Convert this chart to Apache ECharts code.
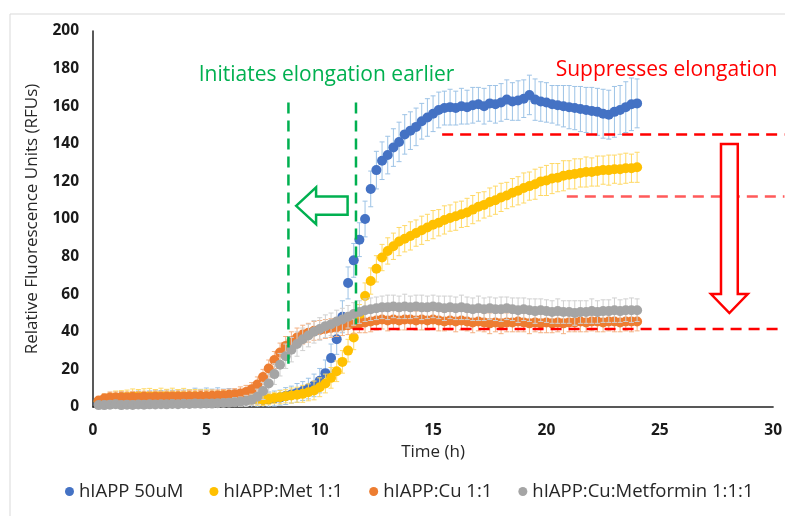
<!DOCTYPE html>
<html>
<head>
<meta charset="utf-8">
<script src="https://cdn.jsdelivr.net/npm/echarts@6/dist/echarts.min.js"></script>
<style>
  html, body { margin: 0; padding: 0; background: #fff; }
  #chart { width: 785px; height: 516px; }
</style>
</head>
<body>
<div id="chart"></div>
<script>
// time points (h)
var times = [0.25,0.5,0.75,1,1.25,1.5,1.75,2,2.25,2.5,
  2.75,3,3.25,3.5,3.75,4,4.25,4.5,4.75,5,
  5.25,5.5,5.75,6,6.25,6.5,6.75,7,7.25,7.5,
  7.75,8,8.25,8.5,8.75,9,9.25,9.5,9.75,10,
  10.25,10.5,10.75,11,11.25,11.5,11.75,12,12.25,12.5,
  12.75,13,13.25,13.5,13.75,14,14.25,14.5,14.75,15,
  15.25,15.5,15.75,16,16.25,16.5,16.75,17,17.25,17.5,
  17.75,18,18.25,18.5,18.75,19,19.25,19.5,19.75,20,
  20.25,20.5,20.75,21,21.25,21.5,21.75,22,22.25,22.5,
  22.75,23,23.25,23.5,23.75,24];

// hIAPP 50uM
var blueVals = [2,2.5,3,3,3.2,3,3.4,3.5,3.3,3.6,
  3.5,3.8,3.6,3.9,3.7,4,3.8,4,3.9,4.1,
  4,4.2,4,4.3,4.1,4.2,4,4.1,4,3.8,
  4,4.5,5,5.8,6.6,7.5,8.5,9.8,11.5,14,
  18,26,36,48,66,78,89,100,116,126,
  131,134,138,141,145,147,149,152,154,156,
  158,159,159.5,159,160,159.5,160.5,161,160,161.5,
  161,162,163.5,162.5,163,164,166,163.5,162.5,162,
  161,160.5,160,159.5,159,158.5,158,157.5,157,156,
  155.5,157,158,159.5,161,161.5];
var blueErr = [2,3,3.5,4,4.5,4,4.5,5,4.5,5,
  5.5,5,5.5,5,5.5,5,5.5,6,5.5,6,
  5.5,6,5.5,5.5,5,5,4.5,4.5,4,4,
  4,4,4,4.5,4.5,5,5,5.5,6,6.5,
  7,7.5,8,8.5,8.5,9,9,9.5,9.5,10,
  10,10,10,10.5,10.5,10,10,9.5,10,9.5,
  9.5,9,9.5,9,9.5,9,9.5,9,9.5,9.5,
  10,10,10.5,10,10.5,10,10.5,11,10.5,10.5,
  10,10.5,11,11.5,11.5,12,12,12.5,12.5,13,
  13,13.5,13,13.5,14,13];

// hIAPP:Met 1:1
var yellowVals = [3,4,4.5,5,5.2,5.5,5.6,5.8,5.7,5.9,
  5.8,6,5.9,6,5.8,5.9,5.7,5.8,5.6,5.7,
  5.5,5.6,5.4,5.5,5.3,5.2,5,4.6,4,3.8,
  4.2,4.8,5.2,5.7,6.1,6.5,7,7.8,8.8,10.5,
  12.5,15.5,19,24,30,37,48,59,67,73.5,
  79.5,83,85.5,88,89.5,91,92.5,94,95.5,97,
  98,99.5,100.5,101.5,102.5,103.5,105,106.5,107.5,109,
  110,111.5,112.5,114,115,116.5,117.5,118.5,120,120.5,
  121.5,122,123,123.5,124,124.5,125,125,125.5,126,
  126,126.5,126.5,127,127,127.5];
var yellowErr = [2,3,3,3.5,3.5,3.5,4,3.5,4,4,
  3.5,4,3.5,4,3.5,4,3.5,3.5,3.5,3.5,
  3.5,3,3.5,3,3,3,3,3,3,3,
  3,3,3.5,3.5,4,4,4.5,4.5,5,5,
  5,5.5,5.5,6,6,6.5,6.5,7,7,7,
  7,7,7,7.5,7,7.5,7,7.5,7,7.5,
  7,7.5,7,7.5,7,7.5,7.5,7.5,7,7.5,
  7.5,7.5,7,7.5,7.5,8,7.5,8,7.5,8,
  8,7.5,8,7.5,8,7.5,8,7.5,8,7.5,
  8,7.5,8,8,7.5,8];

// hIAPP:Cu 1:1
var orangeVals = [3.5,4.5,5,5,5.2,5,5.3,5.1,5.4,5.2,
  5.5,5.3,5.5,5.4,5.6,5.5,5.7,5.6,5.8,5.7,
  6,6.1,6.3,6.5,6.8,7.2,8,9.5,12,16,
  20.5,25,29,32.5,35,37,38.5,39.5,40.5,41,
  41.5,42,42.5,43,43.5,44,44.5,45,45.5,46,
  46.5,46,46.5,46,46.5,46.5,46,46.5,46,46.5,
  46,45.5,46,45.5,46,45.5,45,45.5,45,44.5,
  45,44.5,45,45,45.5,45,44.5,45,44.5,45,
  44.5,45,44.5,45,45,45.5,45,45.5,45.5,45,
  45.5,45.5,45,45.5,45.5,45.5];
var orangeErr = [2,2.5,3,3,3,3,3,3,3,3,
  3,3,3,3,3,3,3,3,3,3,
  3,3,3,3,3,3.5,3.5,3.5,4,4,
  4.5,4.5,5,5,5,5,5,5,5,5,
  5,5,5,5,5,5,5,5.5,5.5,5,
  5,5.5,5,5,5.5,5,5,5.5,5,5,
  5.5,5,5,5.5,5,5,5.5,5,5,5.5,
  5,5.5,5,5,5.5,5,5.5,5,5,5.5,
  5,5,5.5,5,5,5.5,5,5,5.5,5,
  5,5.5,5,5,5.5,5];

// hIAPP:Cu:Metformin 1:1:1
var grayVals = [1,1,1.2,1.5,1,1.2,1.1,1.3,1.2,1.4,
  1.3,1.5,1.4,1.6,1.5,1.7,1.6,1.8,1.7,1.9,
  1.8,2,2.1,2.3,2.5,2.8,3.2,3.8,5.5,8.5,
  12.5,17.5,22.5,27,30.5,33.5,36,38,40,41.5,
  43,44,45.5,46.5,48,49.5,50.5,51.5,52,52.5,
  53,53,53.5,53,53.5,53,53.5,53,53,53.5,
  53,52.5,53,52.5,53,52.5,52,52.5,52,52.5,
  52,52,52.5,52,51.5,52,51.5,51,51.5,51,
  50.5,51,50.5,50.5,50,50.5,50.5,51,50.5,51,
  51,51.5,51,51.5,51.5,51.5];
var grayErr = [1.5,2,2,2,2,2,2,2,2,2,
  2,2,2,2,2,2,2,2,2,2,
  2,2,2,2,2.5,2.5,3,3,4,4.5,
  5,5.5,6,6.5,6.5,6.5,6,6,6,6,
  6,6,6,6,6,6,6,6,6,6,
  6,6.5,6,6,6.5,6,6,6.5,6,6,
  6,6.5,6,6,6.5,6,6,6.5,6,6,
  6,6.5,6,6,6.5,6,6,6.5,6,6,
  6,6.5,6,6,6.5,6,6,6.5,6,6,
  6,6.5,6,6,6.5,6];

var seriesNames = ['hIAPP 50uM', 'hIAPP:Met 1:1', 'hIAPP:Cu 1:1', 'hIAPP:Cu:Metformin 1:1:1'];
var xTicks = [0, 5, 10, 15, 20, 25, 30];

var markerColors = ['#4472c4', '#ffc000', '#ed7d31', '#a5a5a5'];
var barColors = ['#9dc3e6', '#ffd966', '#f4b183', '#d0d0d0'];
var allVals = [blueVals, yellowVals, orangeVals, grayVals];
var allErr = [blueErr, yellowErr, orangeErr, grayErr];

var FONT = 'Open Sans';

function errRender(color) {
	return function (params, api) {
		var t = api.value(0), v = api.value(1), e = api.value(2);
		var hi = api.coord([t, v + e]);
		var lo = api.coord([t, v - e]);
		var cw = 2.5;
		var st = {stroke: color, lineWidth: 1};
		return {
			type: 'group',
			children: [
				{type: 'line', shape: {x1: hi[0], y1: hi[1], x2: lo[0], y2: lo[1]}, style: st},
				{type: 'line', shape: {x1: hi[0] - cw, y1: hi[1], x2: hi[0] + cw, y2: hi[1]}, style: st},
				{type: 'line', shape: {x1: lo[0] - cw, y1: lo[1], x2: lo[0] + cw, y2: lo[1]}, style: st}
			]
		};
	};
}

function dashLine(api, a, b, color, w) {
	var p1 = api.coord(a), p2 = api.coord(b);
	return {type: 'line', shape: {x1: p1[0], y1: p1[1], x2: p2[0], y2: p2[1]},
		style: {stroke: color, lineWidth: w, lineDash: [11, 7]}};
}

function poly(api, pts, color) {
	var px = [];
	for (var i = 0; i < pts.length; i++) px.push(api.coord(pts[i]));
	return {type: 'polygon', shape: {points: px}, style: {fill: '#fff', stroke: color, lineWidth: 2.5}};
}

// annotations, all in data units
function annotRender(params, api) {
	var green = '#00b050', red = '#ff0000';
	var tg = api.coord([10.3, 176.5]);
	var tr = api.coord([25.3, 179]);
	return {
		type: 'group',
		children: [
			dashLine(api, [15.4, 145], [30.5, 145], red, 2.5),
			dashLine(api, [20.9, 112], [30.5, 112], '#ff5a5a', 2.5),
			dashLine(api, [11.45, 41.5], [30.5, 41.5], red, 2.5),
			dashLine(api, [8.62, 162], [8.62, 23], green, 2.5),
			dashLine(api, [11.6, 162], [11.6, 44], green, 2.5),
			poly(api, [[8.96, 107], [9.84, 116.8], [9.84, 112], [11.23, 112], [11.23, 102.2], [9.84, 102.2], [9.84, 97.3]], green),
			poly(api, [[27.7, 139.9], [28.44, 139.9], [28.44, 60.1], [28.88, 60.1], [28.07, 50], [27.26, 60.1], [27.7, 60.1]], red),
			{type: 'text', x: tg[0], y: tg[1], style: {text: 'Initiates elongation earlier', fill: green,
				font: '21px "' + FONT + '"', align: 'center', verticalAlign: 'middle'}},
			{type: 'text', x: tr[0], y: tr[1], style: {text: 'Suppresses elongation', fill: red,
				font: '21px "' + FONT + '"', align: 'center', verticalAlign: 'middle'}}
		]
	};
}

var series = [];
for (var s = 0; s < 4; s++) {
	var errData = [], ptData = [];
	for (var i = 0; i < times.length; i++) {
		errData.push([times[i], allVals[s][i], allErr[s][i]]);
		ptData.push([times[i], allVals[s][i]]);
	}
	series.push({
		type: 'custom',
		renderItem: errRender(barColors[s]),
		data: errData,
		clip: true,
		silent: true,
		z: 2 + s * 2
	});
	series.push({
		name: seriesNames[s],
		type: 'scatter',
		data: ptData,
		symbol: 'circle',
		symbolSize: 10,
		itemStyle: {color: markerColors[s], opacity: 1},
		silent: true,
		z: 3 + s * 2
	});
}
series.push({
	type: 'custom',
	renderItem: annotRender,
	data: [[0, 0]],
	clip: false,
	silent: true,
	z: 20
});

var chart = echarts.init(document.getElementById('chart'));
chart.setOption({
	animation: false,
	backgroundColor: '#fff',
	graphic: [{
		type: 'rect',
		shape: {x: 10, y: 14, width: 800, height: 520},
		style: {fill: 'none', stroke: '#d9d9d9', lineWidth: 1},
		silent: true
	}],
	grid: {left: 93, right: 10, top: 31, bottom: 109},
	legend: {
		data: seriesNames,
		top: 477,
		left: 60,
		icon: 'circle',
		itemWidth: 9,
		itemHeight: 9,
		itemGap: 26,
		textStyle: {fontFamily: FONT, fontSize: 18.5, color: '#262626'}
	},
	xAxis: {
		type: 'value',
		min: 0, max: 30, interval: 5,
		name: 'Time (h)',
		nameLocation: 'middle',
		nameGap: 37,
		nameTextStyle: {fontFamily: FONT, fontSize: 17, color: '#262626'},
		axisLine: {lineStyle: {color: '#222', width: 1.5}},
		axisTick: {show: false},
		splitLine: {show: false},
		axisLabel: {
			margin: 16, fontFamily: FONT, fontSize: 15.5, fontWeight: 'bold', color: '#1a1a1a',
			formatter: function (v) { return xTicks.indexOf(v) >= 0 ? String(v) : ''; }
		}
	},
	yAxis: {
		type: 'value',
		min: 0, max: 200, interval: 20,
		name: 'Relative Fluorescence Units (RFUs)',
		nameLocation: 'middle',
		nameGap: 52,
		nameTextStyle: {fontFamily: FONT, fontSize: 17, color: '#262626'},
		axisLine: {show: true, lineStyle: {color: '#222', width: 1.5}},
		axisTick: {show: false},
		splitLine: {show: false},
		axisLabel: {margin: 14, fontFamily: FONT, fontSize: 15.5, fontWeight: 'bold', color: '#1a1a1a'}
	},
	series: series
});
</script>
</body>
</html>
